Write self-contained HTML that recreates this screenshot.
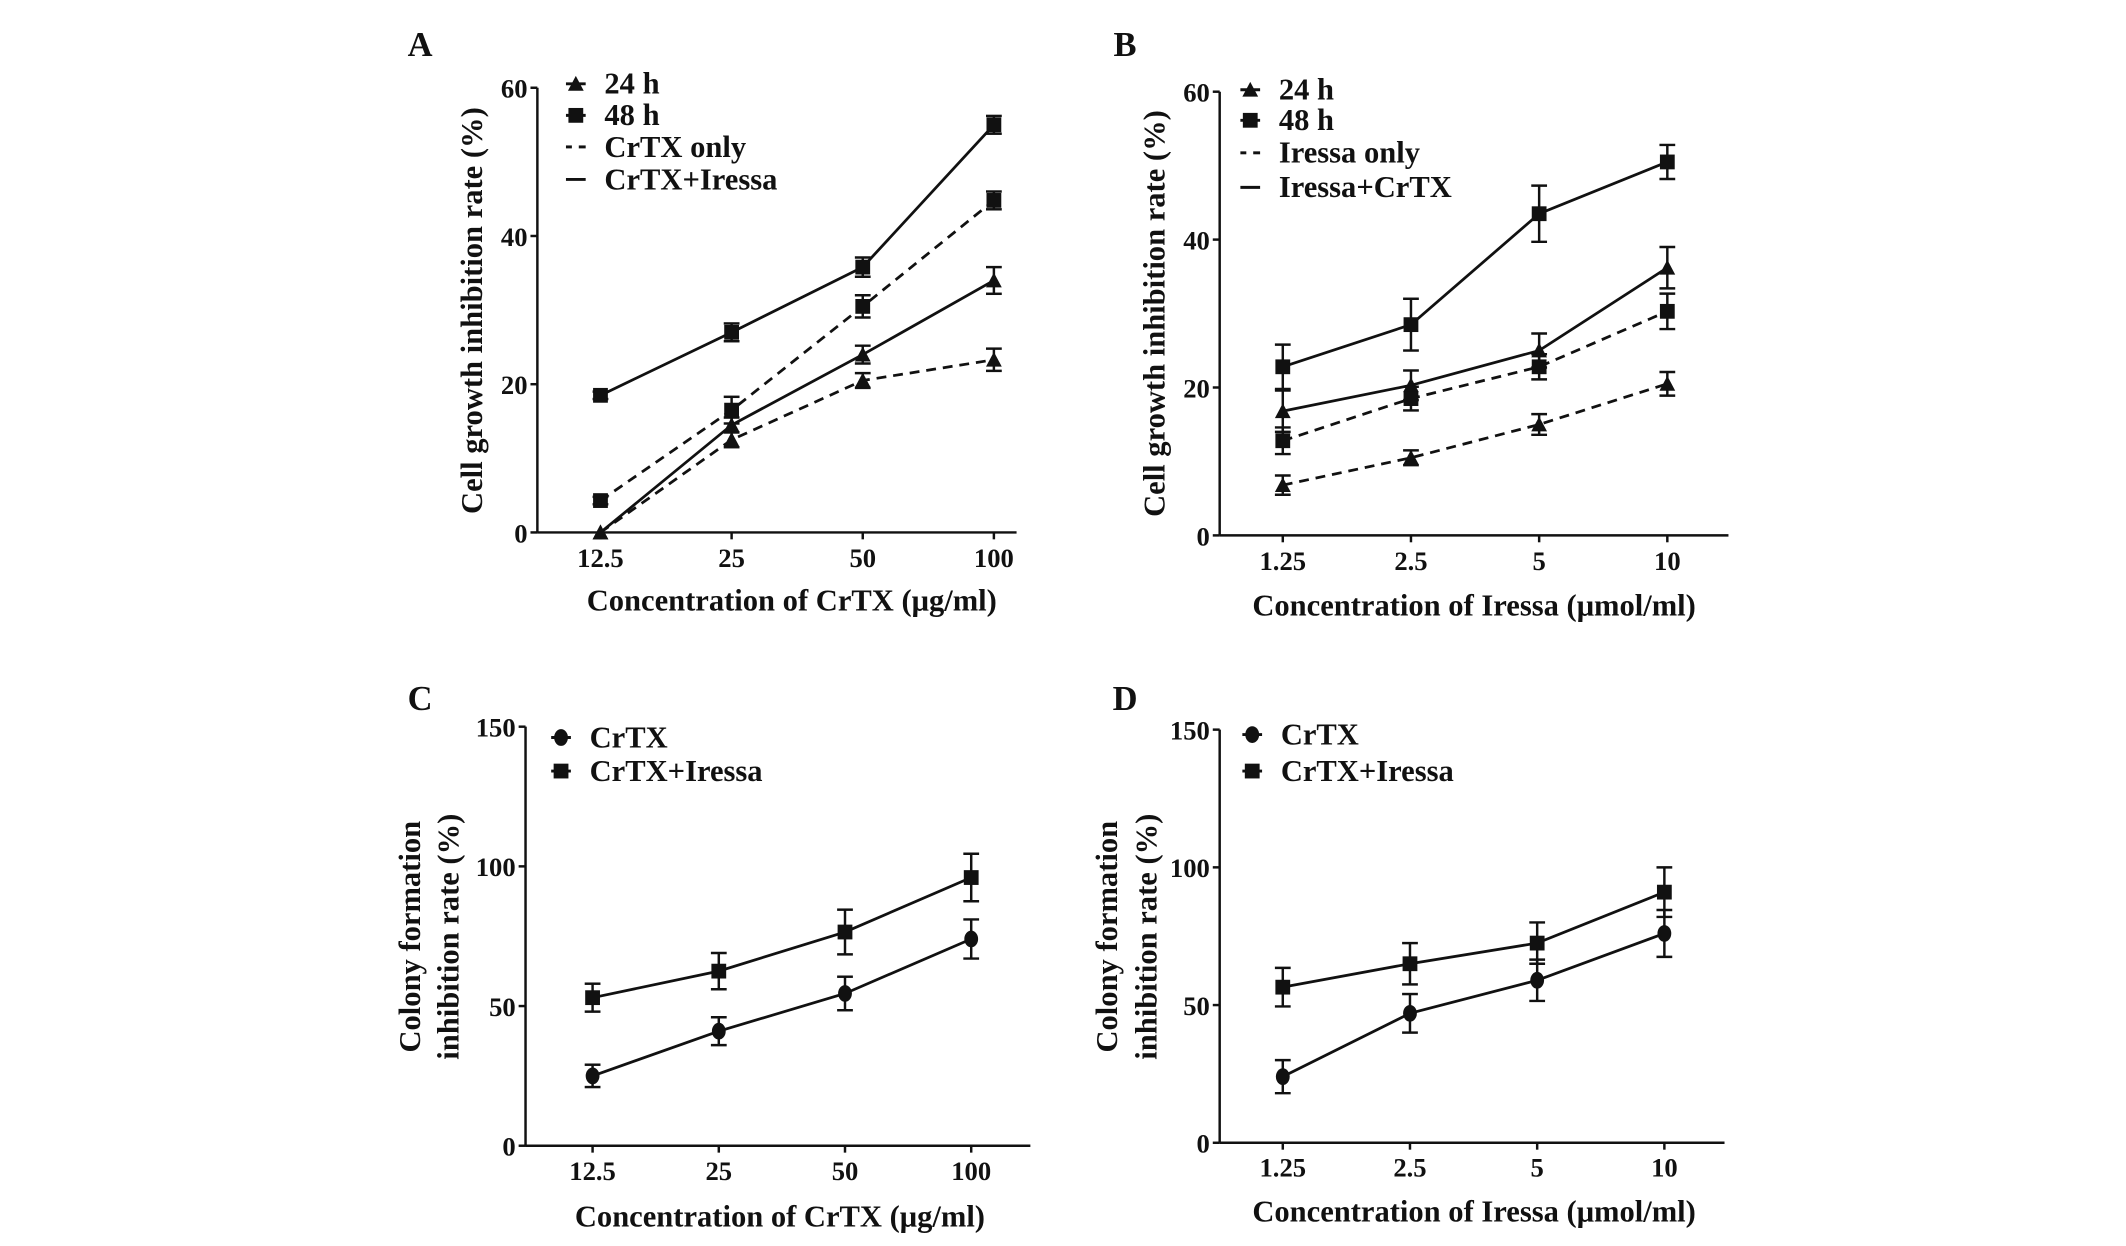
<!DOCTYPE html>
<html><head><meta charset="utf-8"><style>
body{margin:0;background:#fff}
svg{display:block}
text{font-family:"Liberation Serif",serif;font-weight:bold;fill:#111}
</style></head><body>
<svg id="fig0" width="2126" height="1246" viewBox="0 0 2126 1246" xmlns="http://www.w3.org/2000/svg"><g id="fig" transform="scale(0.986)"></g></svg>
<script>
const catsA=["12.5","25","50","100"];
const catsB=["1.25","2.5","5","10"];
const ticksAB=[0,20,40,60];
const ticksCD=[0,50,100,150];
const a24only=[0,12.5,20.5,23.3], a24onlyErr=[0,1,1,1.5];
const a24combo=[0,14.5,24,34], a24comboErr=[0,1,1.2,1.8];
const a48only=[4.3,16.5,30.5,44.8], a48onlyErr=[0.5,1.8,1.5,1.2];
const a48combo=[18.5,27,35.8,55], a48comboErr=[0.5,1.2,1.3,1.2];
const b24only=[6.8,10.5,15,20.5], b24onlyErr=[1.3,1,1.4,1.6];
const b24combo=[16.8,20.3,25,36.2], b24comboErr=[2.8,2,2.3,2.8];
const b48only=[12.8,18.5,22.8,30.3], b48onlyErr=[1.8,1.6,1.7,2.4];
const b48combo=[22.8,28.5,43.5,50.5], b48comboErr=[3,3.5,3.8,2.3];
const cCrtx=[25,41,54.5,74], cCrtxErr=[4,5,6,7];
const cCombo=[53,62.5,76.5,96], cComboErr=[5,6.5,8,8.5];
const dCrtx=[24,47,59,76], dCrtxErr=[6,7,7.5,8.5];
const dCombo=[56.5,65,72.5,91], dComboErr=[7,7.5,7.5,9];

const NS="http://www.w3.org/2000/svg";
const svg=document.getElementById('fig');
function el(tag,attrs,parent,txt){const e=document.createElementNS(NS,tag);for(const k in attrs)e.setAttribute(k,attrs[k]);if(txt!==undefined)e.textContent=txt;(parent||svg).appendChild(e);return e;}

function marker(g,shape,x,y){
  let m;
  if(shape==='tri') m=el('polygon',{points:`${x},${y-8} ${x-8},${y+7} ${x+8},${y+7}`,fill:'#111'},g);
  else if(shape==='sq') m=el('rect',{x:x-7.5,y:y-7.5,width:15,height:15,fill:'#111'},g);
  else m=el('ellipse',{cx:x,cy:y,rx:7,ry:8.5,fill:'#111'},g);
  
  
}

function panel(p){
  const g=el('g',{});
  
  
  const ymax=p.ticks[p.ticks.length-1];
  const sy=v=>p.y0+(p.yTop-p.y0)*v/ymax;
  const sx=i=>p.xs[0]+i*(p.xs[1]-p.xs[0]);
  const lt=el('text',{x:p.letter[0],y:p.letter[1],'font-size':35,'text-anchor':'middle'},g,p.L);
  
  const ya=el('line',{x1:p.ax,y1:p.yTop,x2:p.ax,y2:p.y0,stroke:'#111','stroke-width':2.5},g);
  
  const xa=el('line',{x1:p.ax,y1:p.y0,x2:p.right,y2:p.y0,stroke:'#111','stroke-width':2.5},g);
  
  p.ticks.forEach(t=>{
    el('line',{x1:p.ax-7,y1:sy(t),x2:p.ax,y2:sy(t),stroke:'#111','stroke-width':2.5},g);
    const tl=el('text',{x:p.ax-10,y:sy(t)+10,'font-size':27,'text-anchor':'end'},g,t);
    
  });
  p.cats.forEach((c,i)=>{
    el('line',{x1:sx(i),y1:p.y0,x2:sx(i),y2:p.y0+7,stroke:'#111','stroke-width':2.5},g);
    const tl=el('text',{x:sx(i),y:p.tickY+10,'font-size':27,'text-anchor':'middle'},g,c);
    
  });
  const xt=el('text',{x:p.xtitle[0],y:p.xtitle[1]+11,'font-size':31,'text-anchor':'middle'},g,p.xlabel);
  
  p.ylabel.forEach((lab,k)=>{
    const cx=p.ytx[k],cy=p.yty;
    const yt=el('text',{x:cx,y:cy,'font-size':31,'text-anchor':'middle',transform:`rotate(-90 ${cx} ${cy}) translate(0 11)`},g,lab);
    
  });
  p.series.forEach(s=>{
    const sg=el('g',{},g);
    
    
    const pts=s.v.map((v,i)=>`${sx(i)},${sy(v)}`).join(' ');
    el('polyline',{points:pts,fill:'none',stroke:'#111','stroke-width':2.8,'stroke-dasharray':s.dash?'10 7':'none'},sg);
    s.v.forEach((v,i)=>{
      const e=s.e[i];
      if(e>0){
        el('line',{x1:sx(i),y1:sy(v-e),x2:sx(i),y2:sy(v+e),stroke:'#111','stroke-width':2.5},sg);
        el('line',{x1:sx(i)-8,y1:sy(v-e),x2:sx(i)+8,y2:sy(v-e),stroke:'#111','stroke-width':2.5},sg);
        el('line',{x1:sx(i)-8,y1:sy(v+e),x2:sx(i)+8,y2:sy(v+e),stroke:'#111','stroke-width':2.5},sg);
      }
      marker(sg,s.shape,sx(i),sy(v));
    });
  });
  p.legend.forEach((it,k)=>{
    const lg=el('g',{},g);
    
    
    const y=p.legY[k];
    if(it.type==='dash'){el('line',{x1:p.legM-10,y1:y,x2:p.legM-4,y2:y,stroke:'#111','stroke-width':3},lg);el('line',{x1:p.legM+3,y1:y,x2:p.legM+10,y2:y,stroke:'#111','stroke-width':3},lg);}
    else if(it.type==='line'){el('line',{x1:p.legM-10,y1:y,x2:p.legM+10,y2:y,stroke:'#111','stroke-width':3},lg);}
    else {el('line',{x1:p.legM-10,y1:y,x2:p.legM+10,y2:y,stroke:'#111','stroke-width':3},lg);marker(lg,it.type,p.legM,y);}
    el('text',{x:p.legT,y:y+10,'font-size':31},lg,it.t);
  });
}

panel({name:'panel-a',L:'A',letter:[426,57],ax:545,yTop:89,y0:540,right:1031,xs:[609,742],ticks:ticksAB,cats:catsA,tickY:565,
  xtitle:[803,608],xlabel:'Concentration of CrTX (μg/ml)',ylabel:['Cell growth inhibition rate (%)'],ytx:[478],yty:315,
  series:[{name:'series-24h-crtx-only',v:a24only,e:a24onlyErr,shape:'tri',dash:true},{name:'series-24h-crtx-iressa',v:a24combo,e:a24comboErr,shape:'tri'},
          {name:'series-48h-crtx-only',v:a48only,e:a48onlyErr,shape:'sq',dash:true},{name:'series-48h-crtx-iressa',v:a48combo,e:a48comboErr,shape:'sq'}],
  legM:584,legT:613,legY:[85,117,149,182],legend:[{type:'tri',t:'24 h'},{type:'sq',t:'48 h'},{type:'dash',t:'CrTX only'},{type:'line',t:'CrTX+Iressa'}]});
panel({name:'panel-b',L:'B',letter:[1141,57],ax:1237,yTop:93,y0:543,right:1753,xs:[1301,1431],ticks:ticksAB,cats:catsB,tickY:568,
  xtitle:[1495,613],xlabel:'Concentration of Iressa (μmol/ml)',ylabel:['Cell growth inhibition rate (%)'],ytx:[1170],yty:318,
  series:[{name:'series-24h-iressa-only',v:b24only,e:b24onlyErr,shape:'tri',dash:true},{name:'series-24h-iressa-crtx',v:b24combo,e:b24comboErr,shape:'tri'},
          {name:'series-48h-iressa-only',v:b48only,e:b48onlyErr,shape:'sq',dash:true},{name:'series-48h-iressa-crtx',v:b48combo,e:b48comboErr,shape:'sq'}],
  legM:1268,legT:1297,legY:[91,122,155,190],legend:[{type:'tri',t:'24 h'},{type:'sq',t:'48 h'},{type:'dash',t:'Iressa only'},{type:'line',t:'Iressa+CrTX'}]});
panel({name:'panel-c',L:'C',letter:[426,720],ax:533,yTop:737,y0:1162,right:1045,xs:[601,729],ticks:ticksCD,cats:catsA,tickY:1187,
  xtitle:[791,1233],xlabel:'Concentration of CrTX (μg/ml)',ylabel:['Colony formation','inhibition rate (%)'],ytx:[415,454],yty:950,
  series:[{name:'series-crtx',v:cCrtx,e:cCrtxErr,shape:'dia'},{name:'series-crtx-iressa',v:cCombo,e:cComboErr,shape:'sq'}],
  legM:569,legT:598,legY:[748,782],legend:[{type:'dia',t:'CrTX'},{type:'sq',t:'CrTX+Iressa'}]});
panel({name:'panel-d',L:'D',letter:[1141,720],ax:1237,yTop:740,y0:1159,right:1749,xs:[1301,1430],ticks:ticksCD,cats:catsB,tickY:1183,
  xtitle:[1495,1228],xlabel:'Concentration of Iressa (μmol/ml)',ylabel:['Colony formation','inhibition rate (%)'],ytx:[1122,1162],yty:950,
  series:[{name:'series-crtx',v:dCrtx,e:dCrtxErr,shape:'dia'},{name:'series-crtx-iressa',v:dCombo,e:dComboErr,shape:'sq'}],
  legM:1270,legT:1299,legY:[745,782],legend:[{type:'dia',t:'CrTX'},{type:'sq',t:'CrTX+Iressa'}]});
</script>
</body></html>
